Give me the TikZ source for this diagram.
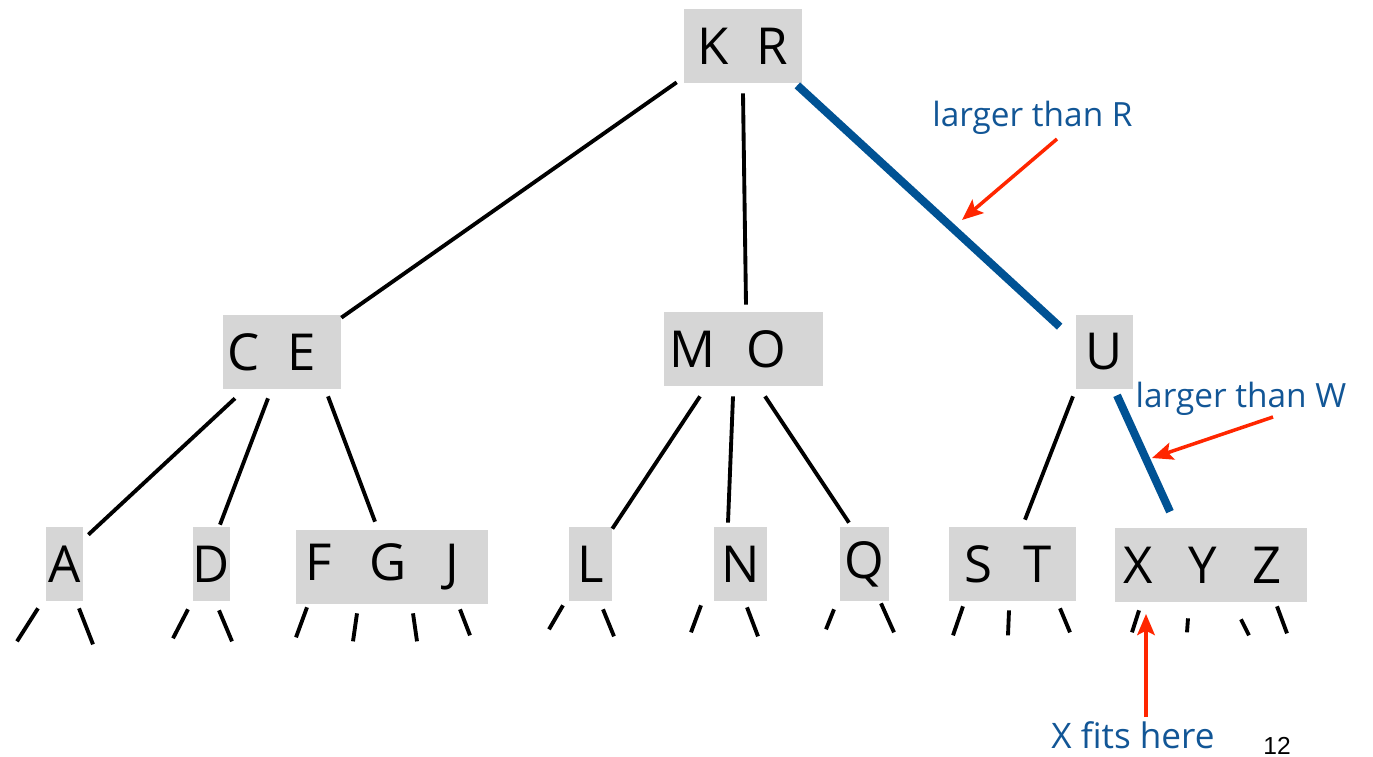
\documentclass[tikz,border=0pt]{standalone}
\usepackage{fontspec}
\setmainfont{Open Sans}
\newfontfamily\pagenofont{Liberation Sans}
\usetikzlibrary{arrows.meta}

\definecolor{boxgray}{RGB}{214,214,214}
\definecolor{pathblue}{RGB}{0,82,148}
\definecolor{noteblue}{RGB}{18,86,150}
\definecolor{notered}{RGB}{255,38,0}

\begin{document}
\begin{tikzpicture}[x=0.02cm,y=-0.02cm]

    \tikzset{
      keys/.style={
        fill=boxgray,
        inner sep=0pt,
        minimum height=1.48cm,
        font=\fontsize{29}{31}\selectfont,
      },
      link/.style={line width=2.2pt, color=black},
      searchpath/.style={line width=4.6pt, color=pathblue},
      stub/.style={line width=2.2pt, color=black},
      note/.style={color=noteblue, anchor=base, font=\fontsize{19}{22}\selectfont},
      pointer/.style={color=notered, line width=2pt, -{Stealth[length=12pt,width=10pt,inset=2.5pt]}},
    }
    \useasboundingbox (0,0) rectangle (1373,757);

	% key nodes
	\node[keys, minimum width=2.36cm] (kr) at (743,46) {K\hspace{0.55em}R};
	\node[keys, minimum width=2.36cm] (ce) at (282,352) {C\hspace{0.55em}E\hspace*{0.4cm}};
	\node[keys, minimum width=3.18cm] (mo) at (743.5,349) {M\hspace{0.6em}O\hspace*{0.62cm}};
	\node[keys, minimum width=1.14cm] (u) at (1104.5,352) {U};
	\node[keys, minimum width=0.74cm] (a) at (64.5,564) {A};
	\node[keys, minimum width=0.74cm] (d) at (211.5,564) {D};
	\node[keys, minimum width=3.84cm] (fgj) at (392,567) {F\hspace{0.75em}G\hspace{0.75em}J\hspace*{0.4cm}};
	\node[keys, minimum width=0.86cm] (l) at (590.5,564) {L};
	\node[keys, minimum width=1.06cm] (n) at (740.5,564) {N};
	\node[keys, minimum width=0.98cm] (q) at (864.5,564) {Q};
	\node[keys, minimum width=2.54cm] (st) at (1012.5,564) {S\hspace{0.6em}T\hspace*{0.18cm}};
	\node[keys, minimum width=3.84cm] (xyz) at (1211,565) {X\hspace{0.7em}Y\hspace{0.7em}Z\hspace*{0.34cm}};

	% tree links
	\draw[link] ([shift={(-7,-1)}]kr.south west) -- ([shift={(0,3)}]ce.north east);
	\draw[link] ([shift={(0,10)}]kr.south) -- ([shift={(2.5,-7)}]mo.north);
	\draw[searchpath] ([shift={(-5,2)}]kr.south east) -- ([shift={(-16,12)}]u.north west);

	\draw[link] ([shift={(-47,9)}]ce.south) -- ([shift={(5,8)}]a.north east);
	\draw[link] ([shift={(-14,9)}]ce.south) -- ([shift={(8.5,-2)}]d.north);
	\draw[link] ([shift={(46,7)}]ce.south) -- ([shift={(-17,-8)}]fgj.north);

	\draw[link] ([shift={(-43.5,10)}]mo.south) -- ([shift={(0,2)}]l.north east);
	\draw[link] ([shift={(-10.5,10)}]mo.south) -- ([shift={(-12.5,-4)}]n.north);
	\draw[link] ([shift={(21.5,10)}]mo.south) -- ([shift={(-15.5,-4)}]q.north);

	\draw[link] ([shift={(-31.5,7)}]u.south) -- ([shift={(12.5,-7)}]st.north);
	\draw[searchpath] ([shift={(12.5,6)}]u.south) -- ([shift={(-41,-16)}]xyz.north);

	% stubs under the bottom keys
	\draw[stub] ([shift={(-26.5,7)}]a.south) -- ++(-21,33);
	\draw[stub] ([shift={(14.5,7)}]a.south) -- ++(14,36);
	\draw[stub] ([shift={(-23.5,8)}]d.south) -- ++(-15,29);
	\draw[stub] ([shift={(7.5,9)}]d.south) -- ++(13,31);
	\draw[stub] ([shift={(-85,3)}]fgj.south) -- ++(-11,30);
	\draw[stub] ([shift={(-35,9)}]fgj.south) -- ++(-4,28);
	\draw[stub] ([shift={(21,9)}]fgj.south) -- ++(4,28);
	\draw[stub] ([shift={(68,5)}]fgj.south) -- ++(10,26);
	\draw[stub] ([shift={(-27.5,4)}]l.south) -- ++(-14,24);
	\draw[stub] ([shift={(12.5,8)}]l.south) -- ++(11,27);
	\draw[stub] ([shift={(-39.5,4)}]n.south) -- ++(-10,27);
	\draw[stub] ([shift={(6.5,6)}]n.south) -- ++(11,29);
	\draw[stub] ([shift={(-30.5,8)}]q.south) -- ++(-8,20);
	\draw[stub] ([shift={(16.5,2)}]q.south) -- ++(13,29);
	\draw[stub] ([shift={(-49.5,5)}]st.south) -- ++(-10,29);
	\draw[stub] ([shift={(-3.5,9)}]st.south) -- ++(-1,25);
	\draw[stub] ([shift={(47.5,7)}]st.south) -- ++(10,24);
	\draw[stub] ([shift={(-72,8)}]xyz.south) -- ++(-7,22);
	\draw[stub] ([shift={(-23,16)}]xyz.south) -- ++(-1,14);
	\draw[stub] ([shift={(30,17)}]xyz.south) -- ++(8,16);
	\draw[stub] ([shift={(66,4)}]xyz.south) -- ++(10,27);

	% notes
	\node[note] (lblR) at (1032.5,127) {larger than R};
	\node[note] (lblW) at (1241,407) {larger than W};
	\node[note, font=\fontsize{20}{22}\selectfont] (lblX) at (1133,748) {X fits here};
	\node[anchor=base, font=\pagenofont\fontsize{14}{16}\selectfont] (pageno) at (1277,754) {12};

	\coordinate (fromR) at (1057,139);
	\coordinate (hitR) at (962,220);
	\coordinate (fromW) at (1273,417);
	\coordinate (hitW) at (1152,458);
	\coordinate (fromX) at (1146,717);
	\coordinate (slotX) at (1146,614);
	\draw[pointer] (fromR) -- (hitR);
	\draw[pointer] (fromW) -- (hitW);
	\draw[pointer] (fromX) -- (slotX);

\end{tikzpicture}
\end{document}
